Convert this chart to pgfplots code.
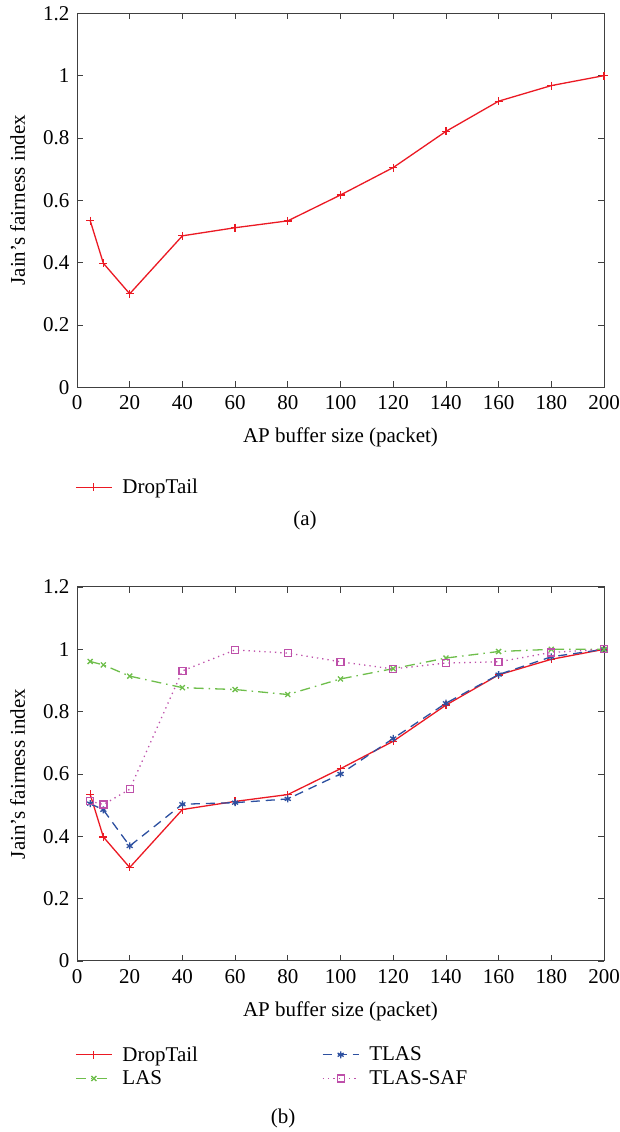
\documentclass[border=0pt]{standalone}
\usepackage{fontspec}
\setmainfont{Liberation Serif}
\usepackage{pgfplots}
\pgfplotsset{compat=1.18}

\definecolor{dtred}{RGB}{235,25,35}
\definecolor{lasgreen}{RGB}{110,190,75}
\definecolor{tlasblue}{RGB}{45,80,160}
\definecolor{safmag}{RGB}{190,80,170}

\pgfplotsset{
  jain/.style={
    scale only axis,
    width=527pt, height=374pt,
    xmin=0, xmax=200, ymin=0, ymax=1.2,
    xtick={0,20,...,200},
    ytick={0,0.2,0.4,0.6,0.8,1,1.2},
    tick align=inside,
    major tick length=6pt,
    axis line style={line width=1pt, black!75},
    every tick/.style={black!75, line width=0.8pt},
    /pgf/number format/assume math mode=true,
    xticklabel style={yshift=-5pt},
    yticklabel style={xshift=-4pt},
    xlabel={AP buffer size (packet)},
    ylabel={Jain’s fairness index},
    every axis x label/.style={at={(axis description cs:0.5,-0.1337)}, anchor=center},
    every axis y label/.style={at={(axis description cs:-0.1129,0.5)}, rotate=90, anchor=center},
    legend cell align=left,
    legend image code/.code={%
      \draw[mark repeat=2,mark phase=2,#1] plot coordinates {(0pt,0pt) (18pt,0pt) (36pt,0pt)};
      \path (44pt,0pt);},
  },
  dt/.style={dtred, line width=1.3pt, mark=+, mark size=4pt, mark options={dtred}},
  las/.style={lasgreen, line width=1.3pt, dash pattern=on 10pt off 5pt on 1.5pt off 5pt, mark=x, mark size=3.5pt, mark options={solid, lasgreen}},
  tlas/.style={tlasblue, line width=1.3pt, dash pattern=on 9pt off 6pt, mark=asterisk, mark size=3.5pt, mark options={solid, tlasblue}},
  saf/.style={safmag, line width=1.3pt, dash pattern=on 1.3pt off 4pt, mark=square, mark size=3.5pt, mark options={solid, safmag}},
}

\begin{document}
\begin{tikzpicture}[font=\fontsize{21}{25}\selectfont]
\path[use as bounding box] (0,0) rectangle (619pt,1132pt);

% (a)
\begin{axis}[jain, at={(77pt,744.7pt)}, anchor=south west,
    legend style={at={(-0.0095,-0.2674)}, anchor=west, draw=none, fill=none}]
\addplot[dt] coordinates {(5,0.535) (10,0.398) (20,0.300) (40,0.486) (60,0.512) (80,0.534) (100,0.617) (120,0.705) (140,0.821) (160,0.918) (180,0.968) (200,1.0)};
\addlegendentry{DropTail}
\end{axis}
\node at (305pt,612pt) {(a)};

% (b)
\begin{axis}[jain, at={(77pt,171pt)}, anchor=south west,
    legend columns=2,
    legend style={at={(-0.0095,-0.282)}, anchor=west, draw=none, fill=none,
      row sep=4pt,
      /tikz/every even column/.append style={column sep=122pt}}]
\addplot[dt] coordinates {(5,0.535) (10,0.398) (20,0.300) (40,0.486) (60,0.512) (80,0.534) (100,0.617) (120,0.705) (140,0.821) (160,0.918) (180,0.968) (200,1.0)};
\addplot[tlas] coordinates {(5,0.505) (10,0.485) (20,0.369) (40,0.503) (60,0.508) (80,0.520) (100,0.600) (120,0.714) (140,0.827) (160,0.919) (180,0.976) (200,1.0)};
\addplot[las] coordinates {(5,0.961) (10,0.950) (20,0.914) (40,0.877) (60,0.871) (80,0.855) (100,0.905) (120,0.938) (140,0.972) (160,0.993) (180,1.0) (200,1.0)};
\addplot[saf] coordinates {(5,0.513) (10,0.502) (20,0.551) (40,0.931) (60,0.998) (80,0.988) (100,0.960) (120,0.937) (140,0.956) (160,0.960) (180,0.990) (200,1.0)};
\legend{DropTail, TLAS, LAS, TLAS-SAF}
\end{axis}
\node at (283pt,14pt) {(b)};
\end{tikzpicture}
\end{document}
